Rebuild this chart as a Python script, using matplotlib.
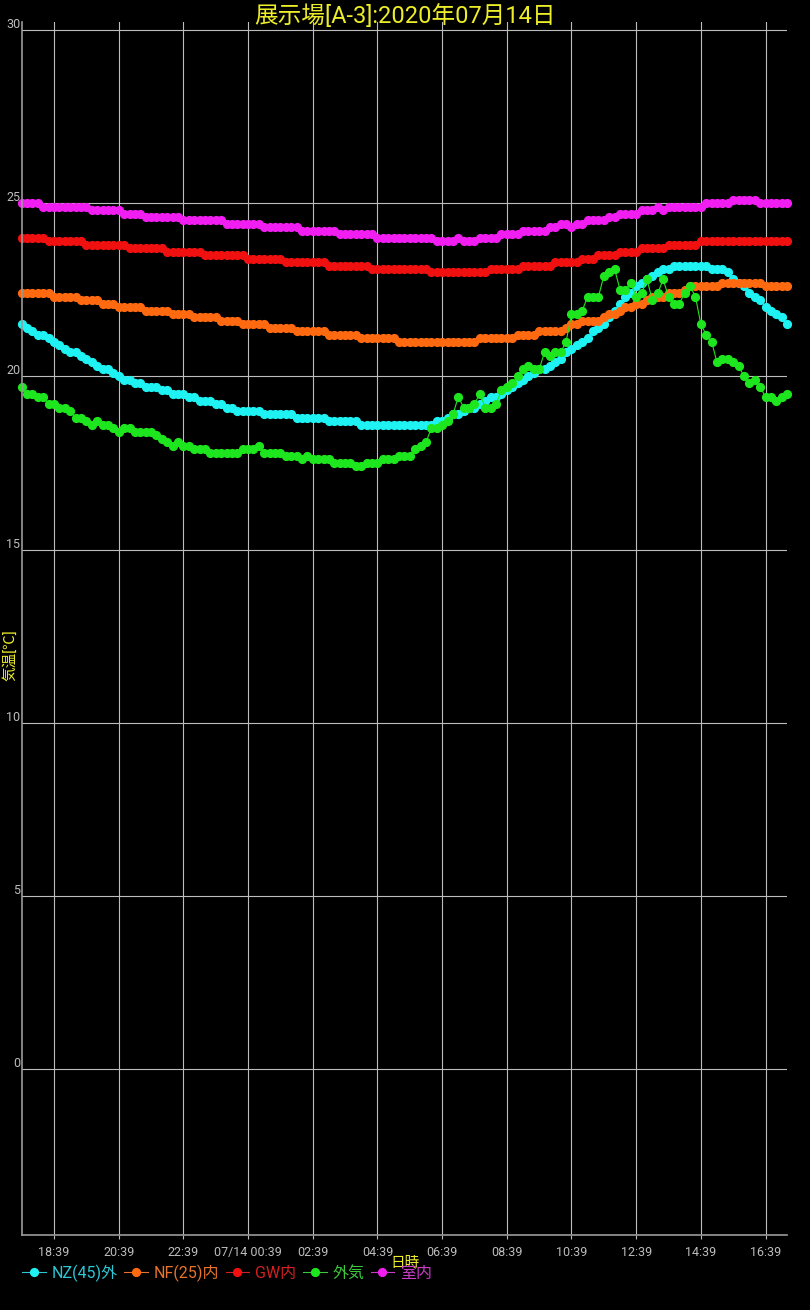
import matplotlib

matplotlib.use("Agg")
import matplotlib.pyplot as plt
import matplotlib.transforms as mtransforms
import pandas as pd
from matplotlib.font_manager import FontProperties
from matplotlib.lines import Line2D

TITLE = "展示場[A-3]:2020年07月14日"
X_LABEL = "日時"
Y_LABEL = "気温[℃]"

# 10-minute samples, 2020-07-13 17:39 .. 2020-07-14 17:19
start_time = "2020-07-13 17:39"
n_samples = 143

tick_times = ["2020-07-13 18:39", "2020-07-13 20:39", "2020-07-13 22:39",
              "2020-07-14 00:39", "2020-07-14 02:39", "2020-07-14 04:39",
              "2020-07-14 06:39", "2020-07-14 08:39", "2020-07-14 10:39",
              "2020-07-14 12:39", "2020-07-14 14:39", "2020-07-14 16:39"]
tick_labels = ["18:39", "20:39", "22:39", "07/14 00:39", "02:39", "04:39",
               "06:39", "08:39", "10:39", "12:39", "14:39", "16:39"]
y_ticks = [0, 5, 10, 15, 20, 25, 30]

series_names = ["NZ(45)外", "NF(25)内", "GW内", "外気", "室内"]

nz45 = [21.5, 21.4, 21.3, 21.2, 21.2, 21.1, 21.0, 20.9, 20.8, 20.7,
        20.7, 20.6, 20.5, 20.4, 20.3, 20.2, 20.2, 20.1, 20.0, 19.9,
        19.9, 19.8, 19.8, 19.7, 19.7, 19.7, 19.6, 19.6, 19.5, 19.5,
        19.5, 19.4, 19.4, 19.3, 19.3, 19.3, 19.2, 19.2, 19.1, 19.1,
        19.0, 19.0, 19.0, 19.0, 19.0, 18.9, 18.9, 18.9, 18.9, 18.9,
        18.9, 18.8, 18.8, 18.8, 18.8, 18.8, 18.8, 18.7, 18.7, 18.7,
        18.7, 18.7, 18.7, 18.6, 18.6, 18.6, 18.6, 18.6, 18.6, 18.6,
        18.6, 18.6, 18.6, 18.6, 18.6, 18.6, 18.6, 18.7, 18.7, 18.8,
        18.9, 18.9, 19.0, 19.1, 19.1, 19.2, 19.3, 19.4, 19.4, 19.5,
        19.6, 19.7, 19.8, 19.9, 20.0, 20.1, 20.2, 20.2, 20.3, 20.4,
        20.5, 20.7, 20.8, 20.9, 21.0, 21.1, 21.3, 21.4, 21.5, 21.7,
        21.9, 22.1, 22.3, 22.4, 22.6, 22.7, 22.8, 22.9, 23.0, 23.1,
        23.1, 23.2, 23.2, 23.2, 23.2, 23.2, 23.2, 23.2, 23.1, 23.1,
        23.1, 23.0, 22.8, 22.7, 22.6, 22.4, 22.3, 22.2, 22.0, 21.9,
        21.8, 21.7, 21.5]

nf25 = [22.4, 22.4, 22.4, 22.4, 22.4, 22.4, 22.3, 22.3, 22.3, 22.3,
        22.3, 22.2, 22.2, 22.2, 22.2, 22.1, 22.1, 22.1, 22.0, 22.0,
        22.0, 22.0, 22.0, 21.9, 21.9, 21.9, 21.9, 21.9, 21.8, 21.8,
        21.8, 21.8, 21.7, 21.7, 21.7, 21.7, 21.7, 21.6, 21.6, 21.6,
        21.6, 21.5, 21.5, 21.5, 21.5, 21.5, 21.4, 21.4, 21.4, 21.4,
        21.4, 21.3, 21.3, 21.3, 21.3, 21.3, 21.3, 21.2, 21.2, 21.2,
        21.2, 21.2, 21.2, 21.1, 21.1, 21.1, 21.1, 21.1, 21.1, 21.1,
        21.0, 21.0, 21.0, 21.0, 21.0, 21.0, 21.0, 21.0, 21.0, 21.0,
        21.0, 21.0, 21.0, 21.0, 21.0, 21.1, 21.1, 21.1, 21.1, 21.1,
        21.1, 21.1, 21.2, 21.2, 21.2, 21.2, 21.3, 21.3, 21.3, 21.3,
        21.3, 21.4, 21.5, 21.5, 21.6, 21.6, 21.6, 21.6, 21.7, 21.8,
        21.8, 21.9, 22.0, 22.0, 22.1, 22.1, 22.2, 22.3, 22.3, 22.3,
        22.4, 22.4, 22.4, 22.5, 22.6, 22.6, 22.6, 22.6, 22.6, 22.6,
        22.7, 22.7, 22.7, 22.7, 22.7, 22.7, 22.7, 22.7, 22.6, 22.6,
        22.6, 22.6, 22.6]

gw = [24.0, 24.0, 24.0, 24.0, 24.0, 23.9, 23.9, 23.9, 23.9, 23.9,
      23.9, 23.9, 23.8, 23.8, 23.8, 23.8, 23.8, 23.8, 23.8, 23.8,
      23.7, 23.7, 23.7, 23.7, 23.7, 23.7, 23.7, 23.6, 23.6, 23.6,
      23.6, 23.6, 23.6, 23.6, 23.5, 23.5, 23.5, 23.5, 23.5, 23.5,
      23.5, 23.5, 23.4, 23.4, 23.4, 23.4, 23.4, 23.4, 23.4, 23.3,
      23.3, 23.3, 23.3, 23.3, 23.3, 23.3, 23.3, 23.2, 23.2, 23.2,
      23.2, 23.2, 23.2, 23.2, 23.2, 23.1, 23.1, 23.1, 23.1, 23.1,
      23.1, 23.1, 23.1, 23.1, 23.1, 23.1, 23.0, 23.0, 23.0, 23.0,
      23.0, 23.0, 23.0, 23.0, 23.0, 23.0, 23.0, 23.1, 23.1, 23.1,
      23.1, 23.1, 23.1, 23.2, 23.2, 23.2, 23.2, 23.2, 23.2, 23.3,
      23.3, 23.3, 23.3, 23.3, 23.4, 23.4, 23.4, 23.5, 23.5, 23.5,
      23.5, 23.6, 23.6, 23.6, 23.6, 23.7, 23.7, 23.7, 23.7, 23.7,
      23.8, 23.8, 23.8, 23.8, 23.8, 23.8, 23.9, 23.9, 23.9, 23.9,
      23.9, 23.9, 23.9, 23.9, 23.9, 23.9, 23.9, 23.9, 23.9, 23.9,
      23.9, 23.9, 23.9]

outside = [19.7, 19.5, 19.5, 19.4, 19.4, 19.2, 19.2, 19.1, 19.1, 19.0,
           18.8, 18.8, 18.7, 18.6, 18.7, 18.6, 18.6, 18.5, 18.4, 18.5,
           18.5, 18.4, 18.4, 18.4, 18.4, 18.3, 18.2, 18.1, 18.0, 18.1,
           18.0, 18.0, 17.9, 17.9, 17.9, 17.8, 17.8, 17.8, 17.8, 17.8,
           17.8, 17.9, 17.9, 17.9, 18.0, 17.8, 17.8, 17.8, 17.8, 17.7,
           17.7, 17.7, 17.6, 17.7, 17.6, 17.6, 17.6, 17.6, 17.5, 17.5,
           17.5, 17.5, 17.4, 17.4, 17.5, 17.5, 17.5, 17.6, 17.6, 17.6,
           17.7, 17.7, 17.7, 17.9, 18.0, 18.1, 18.5, 18.5, 18.6, 18.7,
           18.9, 19.4, 19.1, 19.1, 19.2, 19.5, 19.1, 19.1, 19.2, 19.6,
           19.7, 19.8, 20.0, 20.2, 20.3, 20.2, 20.2, 20.7, 20.6, 20.7,
           20.7, 21.0, 21.8, 21.8, 21.9, 22.3, 22.3, 22.3, 22.9, 23.0,
           23.1, 22.5, 22.5, 22.7, 22.3, 22.4, 22.8, 22.2, 22.4, 22.8,
           22.3, 22.1, 22.1, 22.4, 22.6, 22.3, 21.5, 21.2, 21.0, 20.4,
           20.5, 20.5, 20.4, 20.3, 20.0, 19.8, 19.9, 19.7, 19.4, 19.4,
           19.3, 19.4, 19.5]

room = [25.0, 25.0, 25.0, 25.0, 24.9, 24.9, 24.9, 24.9, 24.9, 24.9,
        24.9, 24.9, 24.9, 24.8, 24.8, 24.8, 24.8, 24.8, 24.8, 24.7,
        24.7, 24.7, 24.7, 24.6, 24.6, 24.6, 24.6, 24.6, 24.6, 24.6,
        24.5, 24.5, 24.5, 24.5, 24.5, 24.5, 24.5, 24.5, 24.4, 24.4,
        24.4, 24.4, 24.4, 24.4, 24.4, 24.3, 24.3, 24.3, 24.3, 24.3,
        24.3, 24.3, 24.2, 24.2, 24.2, 24.2, 24.2, 24.2, 24.2, 24.1,
        24.1, 24.1, 24.1, 24.1, 24.1, 24.1, 24.0, 24.0, 24.0, 24.0,
        24.0, 24.0, 24.0, 24.0, 24.0, 24.0, 24.0, 23.9, 23.9, 23.9,
        23.9, 24.0, 23.9, 23.9, 23.9, 24.0, 24.0, 24.0, 24.0, 24.1,
        24.1, 24.1, 24.1, 24.2, 24.2, 24.2, 24.2, 24.2, 24.3, 24.3,
        24.4, 24.4, 24.3, 24.4, 24.4, 24.5, 24.5, 24.5, 24.5, 24.6,
        24.6, 24.7, 24.7, 24.7, 24.7, 24.8, 24.8, 24.8, 24.9, 24.8,
        24.9, 24.9, 24.9, 24.9, 24.9, 24.9, 24.9, 25.0, 25.0, 25.0,
        25.0, 25.0, 25.1, 25.1, 25.1, 25.1, 25.1, 25.0, 25.0, 25.0,
        25.0, 25.0, 25.0]

dot_colors = ["#1EF2F2", "#FF6A10", "#F01010", "#1EE61E", "#F01EF0"]
text_colors = ["#2CC8D6", "#E8732A", "#D42020", "#3CC83C", "#C83CC8"]
yellow = "#EDED2A"
grid_gray = "#BDBDBD"

LATIN_CJK = ["Roboto", "Noto Sans CJK JP", "DejaVu Sans"]


def main() -> None:
    times = pd.date_range(start_time, periods=n_samples, freq="10min")
    ticks = pd.to_datetime(tick_times)

    fig = plt.figure(figsize=(8.1, 13.1), dpi=100, facecolor="black")
    ax = fig.add_axes([21.7 / 810, 75 / 1310, 765.4 / 810, 1213 / 1310],
                      facecolor="black")

    for vals, c in zip([nz45, nf25, gw, outside, room], dot_colors):
        ax.plot(times, vals, color=c, lw=0.8, marker="o", ms=5.6,
                mec=c, mfc=c, clip_on=False)

    ax.set_xlim(times[0], times[-1])
    ax.set_ylim(-4.79, 30.23)
    ax.set_xticks(ticks)
    ax.set_xticklabels(tick_labels, family="Roboto")
    ax.set_yticks(y_ticks)
    ax.set_yticklabels([str(v) for v in y_ticks], family="Roboto")
    ax.grid(True, color=grid_gray, lw=0.8)
    ax.set_axisbelow(True)

    for side in ("top", "right"):
        ax.spines[side].set_visible(False)
    for side in ("left", "bottom"):
        ax.spines[side].set_color("#9A9A9A")
        ax.spines[side].set_linewidth(1.2)

    ax.tick_params(axis="x", direction="out", length=3, color=grid_gray,
                   labelcolor=grid_gray, labelsize=9, pad=5)
    ax.tick_params(axis="y", length=0, labelcolor=grid_gray, labelsize=9, pad=1)
    up = mtransforms.ScaledTranslation(0, 0.07, fig.dpi_scale_trans)
    for lab in ax.get_yticklabels():
        lab.set_transform(lab.get_transform() + up)

    fig.text(0.5, 1 - 16 / 1310, TITLE, color=yellow, ha="center", va="center",
             fontsize=17, family=LATIN_CJK)
    fig.text(0.5, 1 - 1263 / 1310, X_LABEL, color=yellow, ha="center",
             va="center", fontsize=10.5, family=LATIN_CJK)
    fig.text(10 / 810, 0.5, Y_LABEL, color=yellow, ha="center", va="center",
             rotation=90, fontsize=10.5, family=LATIN_CJK)

    handles = [Line2D([], [], color=tc, lw=0.8, marker="o", ms=5.6, mfc=dc, mec=dc)
               for dc, tc in zip(dot_colors, text_colors)]
    leg = fig.legend(handles, series_names, loc="center left",
                     bbox_to_anchor=(22 / 810, 1 - 1273 / 1310), ncol=5,
                     frameon=False, handlelength=1.5, handletextpad=0.35,
                     columnspacing=0.4, borderaxespad=0, borderpad=0,
                     prop=FontProperties(family=LATIN_CJK, size=11.5))
    for txt, tc in zip(leg.get_texts(), text_colors):
        txt.set_color(tc)

    fig.savefig("out.png", dpi=100, facecolor="black")
    plt.close(fig)


if __name__ == "__main__":
    main()
